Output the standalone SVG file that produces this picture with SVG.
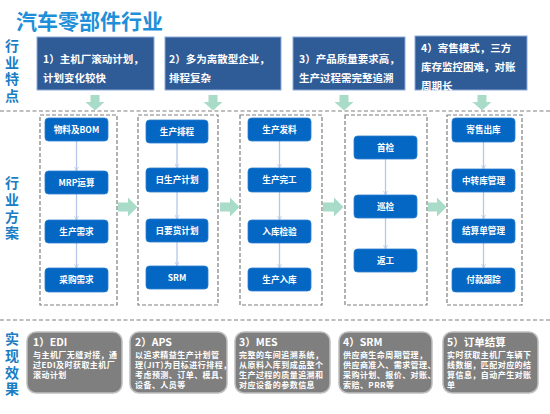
<svg xmlns="http://www.w3.org/2000/svg" width="550" height="414" viewBox="0 0 550 414">
<defs>
<style>
.cjk{font-family:"Noto Sans CJK SC","Liberation Sans",sans-serif;font-weight:bold}
.title{font-size:21px;fill:#1E8FD8}
.side{font-size:14px;fill:#1B7DC4;writing-mode:vertical-rl;letter-spacing:2.4px}
.top{fill:#2F5B96;stroke:#8EA9D9;stroke-width:1}
.topt{font-size:10.5px;fill:#fff}
.col{fill:none;stroke:#7F7F7F;stroke-width:1.2;stroke-dasharray:4 2}
.sep{fill:none;stroke:#7F7F7F;stroke-width:1.2;stroke-dasharray:4 2.5}
.node{fill:#0467C4;stroke:#2F7FD0;stroke-width:0.8}
.nt{font-size:8.6px;fill:#fff;text-anchor:middle}
.garrow{fill:#A8DCC8}
.conn{stroke:#B4C7E7;stroke-width:1.3;fill:none;marker-end:url(#ah)}
.res{fill:#7F7F7F;stroke:#BFBFBF;stroke-width:1.5}
.rh{font-size:10.5px;fill:#fff}
.rt{font-size:8px;fill:#fff;letter-spacing:0.45px}
</style>
<marker id="ah" viewBox="0 0 10 10" refX="9" refY="5" markerWidth="5" markerHeight="5" orient="auto" markerUnits="userSpaceOnUse">
<path d="M1,1 L9,5 L1,9" fill="none" stroke="#B4C7E7" stroke-width="1.6"/>
</marker>
</defs>
<rect width="550" height="414" fill="#fff"/>

<text class="cjk title" x="16" y="29">汽车零部件行业</text>

<g id="side-labels" class="cjk side">
<text x="12" y="39">行业特点</text>
<text x="12" y="176" style="letter-spacing:2.7px">行业方案</text>
<text x="12" y="332" style="letter-spacing:2.7px">实现效果</text>
</g>

<g id="feature1"><rect class="top" x="37" y="37" width="117" height="53"/>
<text class="cjk topt" x="43" y="63">1）主机厂滚动计划，</text><text class="cjk topt" x="43" y="82">计划变化较快</text></g>
<g id="feature2"><rect class="top" x="165" y="37" width="116" height="53"/>
<text class="cjk topt" x="169" y="63">2）多为离散型企业，</text><text class="cjk topt" x="169" y="82">排程复杂</text></g>
<g id="feature3"><rect class="top" x="293" y="37" width="112" height="53"/>
<text class="cjk topt" x="299" y="63">3）产品质量要求高，</text><text class="cjk topt" x="299" y="82">生产过程需完整追溯</text></g>
<g id="feature4"><rect class="top" x="415" y="36" width="112" height="54"/>
<text class="cjk topt" x="421" y="52">4）寄售模式，三方</text><text class="cjk topt" x="421" y="71">库存监控困难，对账</text><text class="cjk topt" x="421" y="90">周期长</text></g>

<g id="separators">
<line class="sep" x1="0" y1="111" x2="550" y2="111"/>
<line class="sep" x1="0" y1="320" x2="550" y2="320"/>
</g>

<g id="columns">
<rect class="col" x="40" y="115" width="77" height="190"/>
<rect class="col" x="138" y="115" width="80" height="190"/>
<rect class="col" x="240" y="115" width="82" height="190"/>
<rect class="col" x="345" y="115" width="82" height="190"/>
<rect class="col" x="447" y="115" width="75" height="190"/>
</g>

<g id="green-arrows" class="garrow">
<path d="M90.5,95 h9 v7 h5 l-9.5,8.5 l-9.5,-8.5 h5 z"/>
<path d="M208.5,95 h9 v7 h5 l-9.5,8.5 l-9.5,-8.5 h5 z"/>
<path d="M339.5,95 h9 v7 h5 l-9.5,8.5 l-9.5,-8.5 h5 z"/>
<path d="M477.5,95 h9 v7 h5 l-9.5,8.5 l-9.5,-8.5 h5 z"/>
<path d="M118,202.5 h10 v-5 l9.5,9.5 l-9.5,9.5 v-5 h-10 z"/>
<path d="M220,202.5 h10 v-5 l9.5,9.5 l-9.5,9.5 v-5 h-10 z"/>
<path d="M323,202.5 h11 v-5 l9.5,9.5 l-9.5,9.5 v-5 h-11 z"/>
<path d="M428,202.5 h9 v-5 l9.5,9.5 l-9.5,9.5 v-5 h-9 z"/>
</g>

<g id="connectors">
<line class="conn" x1="76.5" y1="141" x2="76.5" y2="171"/>
<line class="conn" x1="76.5" y1="194" x2="76.5" y2="220"/>
<line class="conn" x1="76.5" y1="243" x2="76.5" y2="268"/>
<line class="conn" x1="177" y1="143" x2="177" y2="168"/>
<line class="conn" x1="177" y1="192" x2="177" y2="219"/>
<line class="conn" x1="177" y1="242" x2="177" y2="266"/>
<line class="conn" x1="279.5" y1="141" x2="279.5" y2="168"/>
<line class="conn" x1="279.5" y1="192" x2="279.5" y2="220"/>
<line class="conn" x1="279.5" y1="243" x2="279.5" y2="268"/>
<line class="conn" x1="385.5" y1="159" x2="385.5" y2="195"/>
<line class="conn" x1="385.5" y1="218" x2="385.5" y2="249"/>
<line class="conn" x1="483.5" y1="142" x2="483.5" y2="169"/>
<line class="conn" x1="483.5" y1="192" x2="483.5" y2="219"/>
<line class="conn" x1="483.5" y1="243" x2="483.5" y2="268"/>
</g>

<g id="n-bom"><rect class="node" x="45" y="118" width="63" height="23" rx="3.5"/><text class="cjk nt" x="76.5" y="132.5">物料及BOM</text></g>
<g id="n-mrp"><rect class="node" x="45" y="171" width="63" height="23" rx="3.5"/><text class="cjk nt" x="76.5" y="185.5">MRP运算</text></g>
<g id="n-scxq"><rect class="node" x="45" y="220" width="63" height="23" rx="3.5"/><text class="cjk nt" x="76.5" y="234.5">生产需求</text></g>
<g id="n-cgxq"><rect class="node" x="45" y="268" width="63" height="24" rx="3.5"/><text class="cjk nt" x="76.5" y="283">采购需求</text></g>

<g id="n-scpc"><rect class="node" x="146" y="120" width="62" height="23" rx="3.5"/><text class="cjk nt" x="177" y="134.5">生产排程</text></g>
<g id="n-rscjh"><rect class="node" x="146" y="168" width="62" height="24" rx="3.5"/><text class="cjk nt" x="177" y="183">日生产计划</text></g>
<g id="n-ryhjh"><rect class="node" x="146" y="219" width="62" height="23" rx="3.5"/><text class="cjk nt" x="177" y="233.5">日要货计划</text></g>
<g id="n-srm"><rect class="node" x="146" y="266" width="62" height="23" rx="3.5"/><text class="cjk nt" x="177" y="280.5">SRM</text></g>

<g id="n-scfl"><rect class="node" x="248" y="118" width="63" height="23" rx="3.5"/><text class="cjk nt" x="279.5" y="132.5">生产发料</text></g>
<g id="n-scwg"><rect class="node" x="248" y="168" width="63" height="24" rx="3.5"/><text class="cjk nt" x="279.5" y="183">生产完工</text></g>
<g id="n-rkjy"><rect class="node" x="248" y="220" width="63" height="23" rx="3.5"/><text class="cjk nt" x="279.5" y="234.5">入库检验</text></g>
<g id="n-scrk"><rect class="node" x="248" y="268" width="63" height="23" rx="3.5"/><text class="cjk nt" x="279.5" y="282.5">生产入库</text></g>

<g id="n-sj"><rect class="node" x="354" y="136" width="63" height="23" rx="3.5"/><text class="cjk nt" x="385.5" y="150.5">首检</text></g>
<g id="n-xj"><rect class="node" x="354" y="195" width="63" height="23" rx="3.5"/><text class="cjk nt" x="385.5" y="209.5">巡检</text></g>
<g id="n-fg"><rect class="node" x="354" y="249" width="63" height="23" rx="3.5"/><text class="cjk nt" x="385.5" y="263.5">返工</text></g>

<g id="n-jsck"><rect class="node" x="452" y="118" width="63" height="24" rx="3.5"/><text class="cjk nt" x="483.5" y="133">寄售出库</text></g>
<g id="n-zzkgl"><rect class="node" x="452" y="169" width="63" height="23" rx="3.5"/><text class="cjk nt" x="483.5" y="183.5">中转库管理</text></g>
<g id="n-jsdgl"><rect class="node" x="452" y="219" width="63" height="24" rx="3.5"/><text class="cjk nt" x="483.5" y="234">结算单管理</text></g>
<g id="n-fkgz"><rect class="node" x="452" y="268" width="63" height="24" rx="3.5"/><text class="cjk nt" x="483.5" y="283">付款跟踪</text></g>

<g id="r-edi"><rect class="res" x="27" y="332" width="95" height="61" rx="9"/>
<text class="cjk rh" x="33" y="346">1）EDI</text>
<text class="cjk rt" x="33" y="357.5">与主机厂无缝对接，通</text>
<text class="cjk rt" x="33" y="367.5">过EDI及时获取主机厂</text>
<text class="cjk rt" x="33" y="377.5">滚动计划</text></g>
<g id="r-aps"><rect class="res" x="130" y="332" width="97" height="61" rx="9"/>
<text class="cjk rh" x="135" y="346">2）APS</text>
<text class="cjk rt" x="135" y="357.5">以追求精益生产计划管</text>
<text class="cjk rt" x="135" y="367.5">理(JIT)为目标进行排程，</text>
<text class="cjk rt" x="135" y="377.5">考虑预测、订单、模具、</text>
<text class="cjk rt" x="135" y="387.5">设备、人员等</text></g>
<g id="r-mes"><rect class="res" x="235" y="332" width="95" height="61" rx="9"/>
<text class="cjk rh" x="239" y="346">3）MES</text>
<text class="cjk rt" x="239" y="357.5">完整的车间追溯系统，</text>
<text class="cjk rt" x="239" y="367.5">从原料入库到成品整个</text>
<text class="cjk rt" x="239" y="377.5">生产过程的质量追溯和</text>
<text class="cjk rt" x="239" y="387.5">对应设备的参数信息</text></g>
<g id="r-srm"><rect class="res" x="339" y="332" width="93" height="61" rx="9"/>
<text class="cjk rh" x="343" y="346">4）SRM</text>
<text class="cjk rt" x="343" y="357.5">供应商生命周期管理，</text>
<text class="cjk rt" x="343" y="367.5">供应商准入、需求管理、</text>
<text class="cjk rt" x="343" y="377.5">采购计划、报价、对账、</text>
<text class="cjk rt" x="343" y="387.5">索赔、PRR等</text></g>
<g id="r-order"><rect class="res" x="443" y="332" width="95" height="61" rx="9"/>
<text class="cjk rh" x="447" y="346">5）订单结算</text>
<text class="cjk rt" x="447" y="357.5">实时获取主机厂车辆下</text>
<text class="cjk rt" x="447" y="367.5">线数据，匹配对应的结</text>
<text class="cjk rt" x="447" y="377.5">算信息，自动产生对账</text>
<text class="cjk rt" x="447" y="387.5">单</text></g>
</svg>
